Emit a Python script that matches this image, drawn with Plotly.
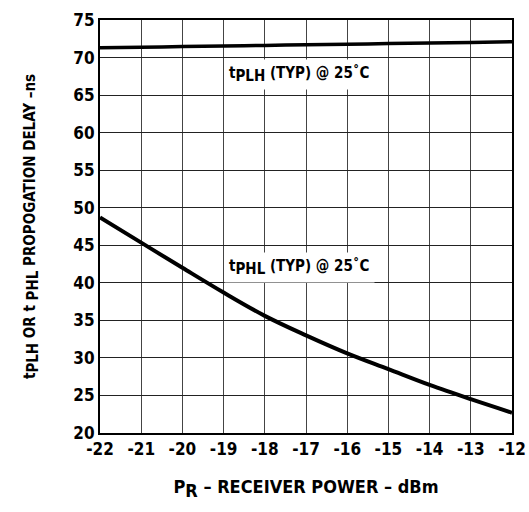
import plotly.graph_objects as go

power_dbm = [-22, -21, -20, -19, -18, -17, -16, -15, -14, -13, -12]
t_plh_ns = [71.3, 71.38, 71.46, 71.54, 71.62, 71.7, 71.78, 71.86, 71.94, 72.02, 72.1]
t_phl_ns = [48.7, 45.35, 42.0, 38.7, 35.6, 33.0, 30.6, 28.5, 26.4, 24.5, 22.7]

x_ticks = [-22, -21, -20, -19, -18, -17, -16, -15, -14, -13, -12]
y_ticks = [20, 25, 30, 35, 40, 45, 50, 55, 60, 65, 70, 75]

FONT = "DejaVu Sans Condensed, Liberation Sans Narrow, sans-serif"


def sub(txt, size):
    return f"<sub><span style='font-size:{size}px'>{txt}</span></sub>"


fig = go.Figure()
fig.add_trace(go.Scatter(x=power_dbm, y=t_plh_ns, mode="lines",
                         line=dict(color="black", width=3.5, shape="spline"),
                         showlegend=False, hoverinfo="skip"))
fig.add_trace(go.Scatter(x=power_dbm, y=t_phl_ns, mode="lines",
                         line=dict(color="black", width=4, shape="spline"),
                         showlegend=False, hoverinfo="skip"))

fig.add_annotation(x=-17.15, y=67.7, xref="x", yref="y",
                   text=f"<b>t{sub('PLH', 15)} (TYP) @ 25˚C</b>", showarrow=False,
                   font=dict(family=FONT, size=15, color="black"),
                   bgcolor="white", borderpad=4)
fig.add_annotation(x=-17.15, y=42.0, xref="x", yref="y",
                   text=f"<b>t{sub('PHL', 15)} (TYP) @ 25˚C</b>", showarrow=False,
                   font=dict(family=FONT, size=15, color="black"),
                   bgcolor="white", borderpad=4)

fig.update_layout(
    width=529, height=512,
    margin=dict(l=100, r=17, t=20, b=79, autoexpand=False),
    paper_bgcolor="white", plot_bgcolor="white",
    font=dict(family=FONT, color="black"),
    xaxis=dict(range=[-22, -12], tickvals=x_ticks, ticktext=[f"<b>{v}</b>" for v in x_ticks],
               showgrid=True, gridcolor="#444", gridwidth=1.3, zeroline=False,
               showline=True, linecolor="black", linewidth=2, mirror=True,
               ticks="", ticklen=0, automargin=False,
               tickfont=dict(family=FONT, size=17, color="black"),
               title=dict(text=f"<b>P{sub('R', 18)} – RECEIVER POWER – dBm</b>",
                          font=dict(family=FONT, size=18, color="black"), standoff=22)),
    yaxis=dict(range=[20, 75], tickvals=y_ticks, ticktext=[f"<b>{v}</b>" for v in y_ticks],
               showgrid=True, gridcolor="#222", gridwidth=1.3, zeroline=False,
               showline=True, linecolor="black", linewidth=2, mirror=True,
               ticks="", ticklen=0, automargin=False,
               tickfont=dict(family=FONT, size=17, color="black"),
               title=dict(text=f"<b>t{sub('PLH', 15)} OR t {sub('PHL', 15)} PROPOGATION DELAY –ns</b>",
                          font=dict(family=FONT, size=15, color="black"), standoff=34)),
)

fig.write_html("out.html", config={"displayModeBar": False},
               post_script="document.body.style.margin='0';document.body.style.overflow='hidden';")
